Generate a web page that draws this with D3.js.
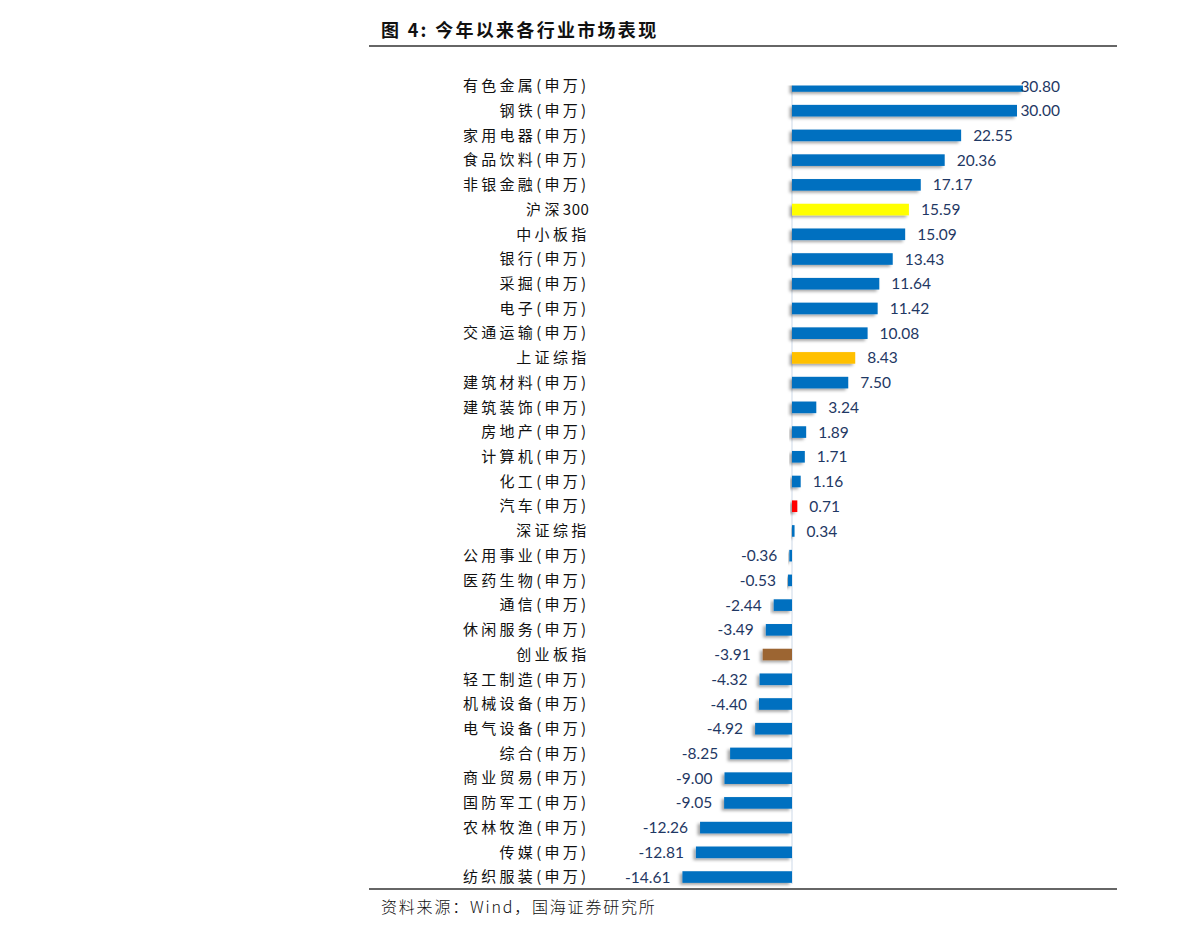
<!DOCTYPE html>
<html><head><meta charset="utf-8">
<script src="https://cdn.jsdelivr.net/npm/d3@7"></script>
<style>
body{margin:0;background:#fff;}
svg{display:block;}
</style></head>
<body>
<script>
const categories = ["有色金属(申万)","钢铁(申万)","家用电器(申万)","食品饮料(申万)","非银金融(申万)","沪深300","中小板指","银行(申万)","采掘(申万)","电子(申万)","交通运输(申万)","上证综指","建筑材料(申万)","建筑装饰(申万)","房地产(申万)","计算机(申万)","化工(申万)","汽车(申万)","深证综指","公用事业(申万)","医药生物(申万)","通信(申万)","休闲服务(申万)","创业板指","轻工制造(申万)","机械设备(申万)","电气设备(申万)","综合(申万)","商业贸易(申万)","国防军工(申万)","农林牧渔(申万)","传媒(申万)","纺织服装(申万)"];
const values = [30.80,30.00,22.55,20.36,17.17,15.59,15.09,13.43,11.64,11.42,10.08,8.43,7.50,3.24,1.89,1.71,1.16,0.71,0.34,-0.36,-0.53,-2.44,-3.49,-3.91,-4.32,-4.40,-4.92,-8.25,-9.00,-9.05,-12.26,-12.81,-14.61];
const highlightColors = {"沪深300":"#FFFF00","上证综指":"#FFC000","汽车(申万)":"#FF0000","创业板指":"#9C6531"};
const baseColor = "#0070C0";
const titleText = "图 4:  今年以来各行业市场表现";
const sourceText = "资料来源：Wind，国海证券研究所";

const W = 1191, H = 936;
const svg = d3.select("body").append("svg").attr("width", W).attr("height", H);

const defs = svg.append("defs");
const f = defs.append("filter").attr("id","shadow").attr("x","-20%").attr("y","-60%").attr("width","140%").attr("height","220%");
f.append("feDropShadow").attr("dx",-2.5).attr("dy",2).attr("stdDeviation",1.6).attr("flood-color","#000").attr("flood-opacity",0.35);
defs.append("clipPath").attr("id","plotclip").append("rect").attr("x",600).attr("y",85.5).attr("width",500).attr("height",810);

// Title
svg.append("text").attr("x",381).attr("y",37).text(titleText)
  .attr("font-family","'Noto Sans CJK SC', sans-serif").attr("font-weight",700)
  .attr("font-size",18).attr("letter-spacing",2.3).attr("fill","#111");
svg.append("line").attr("x1",369).attr("x2",1117).attr("y1",46).attr("y2",46).attr("stroke","#333").attr("stroke-width",1.3);
svg.append("line").attr("x1",369).attr("x2",1117).attr("y1",889).attr("y2",889).attr("stroke","#333").attr("stroke-width",1.3);
svg.append("text").attr("x",381).attr("y",913).text(sourceText)
  .attr("font-family","'Noto Sans CJK SC', sans-serif").attr("font-weight",300)
  .attr("font-size",16).attr("letter-spacing",1.8).attr("fill","#111");

const x = d3.scaleLinear().domain([0,30]).range([792,1017]);
const y = d3.scaleBand().domain(categories).range([73.6,889.4]).paddingInner(0.53).paddingOuter(0.265);

const data = categories.map((c,i)=>({c, v: values[i]}));

// axis line at zero
svg.append("line").attr("x1",x(0)).attr("x2",x(0)).attr("y1",85.5).attr("y2",884)
  .attr("stroke","#D6E0EC").attr("stroke-width",1.2);

const gBars = svg.append("g").attr("clip-path","url(#plotclip)");
gBars.selectAll("rect").data(data).join("rect")
  .attr("x", d=>Math.min(x(0),x(d.v)))
  .attr("width", d=>Math.abs(x(d.v)-x(0)))
  .attr("y", d=>y(d.c)).attr("height", y.bandwidth())
  .attr("fill", d=>highlightColors[d.c]||baseColor)
  .attr("filter","url(#shadow)");

// category labels: CJK characters widely spaced, digits tight
const labels = svg.append("g").selectAll("text").data(data).join("text")
  .attr("x",589.5).attr("y",d=>y(d.c)+y.bandwidth()/2).attr("dy","0.35em")
  .attr("text-anchor","end")
  .attr("font-family","'Noto Sans CJK SC', sans-serif").attr("font-weight",400)
  .attr("font-size",15).attr("fill","#111");
labels.each(function(d){
  const t = d3.select(this);
  const parts = d.c.match(/[0-9]+|[^0-9]+/g);
  parts.forEach(p=>{
    t.append("tspan").text(p).attr("letter-spacing", /[0-9]/.test(p) ? 0.6 : 3.3);
  });
});

// value labels
const plotRight = 1060;
svg.append("g").selectAll("text").data(data).join("text")
  .attr("y",d=>y(d.c)+y.bandwidth()/2).attr("dy","0.36em")
  .attr("font-family","Lato, 'Open Sans', sans-serif")
  .attr("font-size",15.5).attr("fill","#1F3864")
  .text(d=>d.v.toFixed(2))
  .each(function(d){
    const t = d3.select(this);
    const w = this.getComputedTextLength();
    if (d.v >= 0) {
      let px = x(d.v) + 12;
      if (px + w > plotRight) px = plotRight - w;
      t.attr("x", px).attr("text-anchor","start");
    } else {
      t.attr("x", x(d.v) - 12).attr("text-anchor","end");
    }
  });
</script>
</body></html>
